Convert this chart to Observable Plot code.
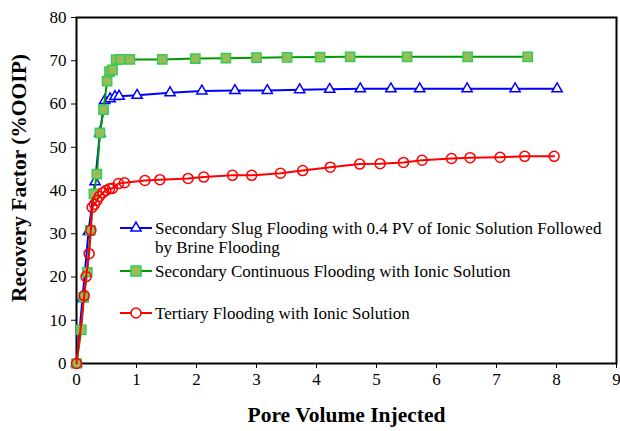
<!DOCTYPE html>
<html>
<head>
<meta charset="utf-8">
<script src="https://cdn.jsdelivr.net/npm/d3@7"></script>
<script src="https://cdn.jsdelivr.net/npm/@observablehq/plot@0.6"></script>
<style>
  html, body { margin: 0; padding: 0; background: #fff; }
  #chart { position: relative; width: 620px; height: 431px; }
  #chart svg text { font-family: "Liberation Serif", "Times New Roman", serif; }
  g[aria-label="x-axis label"] text { font-weight: bold; font-size: 21.5px; }
</style>
</head>
<body>
<div id="chart"></div>
<script>
// Secondary slug flooding (0.4 PV ionic solution, then brine)
const pvSlug = [0, 0.10, 0.20, 0.31, 0.39, 0.47, 0.56, 0.64, 0.71, 1.01, 1.56, 2.09, 2.64, 3.18, 3.72, 4.22, 4.73, 5.24, 5.72, 6.51, 7.31, 8.01];
const rfSlug = [0, 15, 30.5, 42, 53.3, 60.8, 61.2, 61.7, 61.8, 62.0, 62.6, 63.0, 63.1, 63.1, 63.3, 63.4, 63.5, 63.5, 63.5, 63.5, 63.5, 63.5];
// Secondary continuous flooding with ionic solution
const pvCont = [0, 0.08, 0.12, 0.18, 0.23, 0.29, 0.34, 0.39, 0.45, 0.51, 0.55, 0.60, 0.66, 0.73, 0.89, 1.43, 1.98, 2.49, 3.00, 3.51, 4.06, 4.56, 5.51, 6.52, 7.52];
const rfCont = [0, 7.8, 15.3, 21.1, 30.8, 39.2, 43.8, 53.3, 58.7, 65.3, 67.5, 67.9, 70.2, 70.3, 70.3, 70.3, 70.5, 70.6, 70.7, 70.8, 70.85, 70.9, 70.9, 70.9, 70.9];
// Tertiary flooding with ionic solution
const pvTert = [0, 0.13, 0.16, 0.21, 0.24, 0.26, 0.30, 0.34, 0.38, 0.44, 0.49, 0.55, 0.60, 0.70, 0.80, 1.14, 1.39, 1.86, 2.12, 2.60, 2.92, 3.40, 3.77, 4.23, 4.72, 5.06, 5.45, 5.76, 6.25, 6.56, 7.06, 7.47, 7.96];
const rfTert = [0, 15.7, 20.1, 25.4, 30.8, 36.1, 36.8, 37.7, 38.6, 39.5, 40.0, 40.4, 40.5, 41.6, 41.8, 42.3, 42.5, 42.8, 43.1, 43.5, 43.5, 44.0, 44.6, 45.4, 46.1, 46.2, 46.5, 47.0, 47.4, 47.6, 47.7, 47.9, 47.9];

const seriesNames = [
  "Secondary Slug Flooding with 0.4 PV of Ionic Solution Followed|by Brine Flooding",
  "Secondary Continuous Flooding with Ionic Solution",
  "Tertiary Flooding with Ionic Solution"
];
const xLabel = "Pore Volume Injected";
const yLabel = "Recovery Factor (%OOIP)";
const xTicks = [0, 1, 2, 3, 4, 5, 6, 7, 8, 9];
const yTicks = [0, 10, 20, 30, 40, 50, 60, 70, 80];

const toRows = (xs, ys) => xs.map((x, i) => ({x, y: ys[i]}));
const slug = toRows(pvSlug, rfSlug);
const cont = toRows(pvCont, rfCont);
const tert = toRows(pvTert, rfTert);

const blue = "#0000ff", green = "#009a00", red = "#ff0000";
const sqFill = "#9bbb59", sqStroke = "#33cc55";
const serif = "'Liberation Serif', 'Times New Roman', serif";

const plot = Plot.plot({
  width: 620,
  height: 431,
  marginLeft: 76,
  marginRight: 4,
  marginTop: 17,
  marginBottom: 68,
  style: {fontFamily: serif, fontSize: "17px", color: "#000", background: "#fff"},
  x: {domain: [0, 9]},
  y: {domain: [0, 80]},
  marks: [
    Plot.axisX({ticks: xTicks, tickSize: 5, tickPadding: 4, tickFormat: d => d, fontSize: 17,
      label: xLabel, labelAnchor: "center", labelArrow: "none", labelOffset: 58}),
    Plot.axisY({ticks: yTicks, tickSize: 5, tickPadding: 5, tickFormat: d => d, fontSize: 17, label: null}),
    Plot.frame({stroke: "#000", strokeWidth: 2}),
    Plot.line(slug, {x: "x", y: "y", stroke: blue, strokeWidth: 2}),
    Plot.dot(slug, {x: "x", y: "y", symbol: "triangle", r: 3.8, stroke: blue, fill: "white", strokeWidth: 1.5}),
    Plot.line(cont, {x: "x", y: "y", stroke: green, strokeWidth: 2}),
    Plot.dot(cont, {x: "x", y: "y", symbol: "square", r: 5.2, stroke: sqStroke, fill: sqFill, strokeWidth: 1.5}),
    Plot.line(tert, {x: "x", y: "y", stroke: red, strokeWidth: 2}),
    Plot.dot(tert, {x: "x", y: "y", symbol: "circle", r: 5, stroke: red, fill: "none", strokeWidth: 1.5})
  ]
});
document.getElementById("chart").appendChild(plot);

const svg = d3.select(plot);
// Y axis title
svg.append("text")
  .attr("transform", "translate(26,178) rotate(-90)")
  .attr("text-anchor", "middle")
  .attr("font-family", serif)
  .attr("font-weight", "bold")
  .attr("font-size", 21.5)
  .attr("fill", "#000")
  .text(yLabel);

// Legend inside the plot area
const lg = svg.append("g")
  .attr("font-family", serif)
  .attr("font-size", 17)
  .attr("text-anchor", "start");
const legendItems = [
  {name: seriesNames[0], color: blue, sym: "triangle", cy: 228},
  {name: seriesNames[1], color: green, sym: "square", cy: 271},
  {name: seriesNames[2], color: red, sym: "circle", cy: 313}
];
legendItems.forEach(it => {
  lg.append("line").attr("x1", 120).attr("x2", 152).attr("y1", it.cy).attr("y2", it.cy)
    .attr("stroke", it.color).attr("stroke-width", 2);
  if (it.sym === "triangle") {
    lg.append("path").attr("d", d3.symbol(d3.symbolTriangle, Math.PI * 3.8 * 3.8)()).attr("transform", `translate(136,${it.cy})`)
      .attr("fill", "white").attr("stroke", blue).attr("stroke-width", 1.5);
  } else if (it.sym === "square") {
    lg.append("rect").attr("x", 131).attr("y", it.cy - 5).attr("width", 10).attr("height", 10)
      .attr("fill", sqFill).attr("stroke", sqStroke).attr("stroke-width", 1.5);
  } else {
    lg.append("circle").attr("cx", 136).attr("cy", it.cy).attr("r", 5).attr("fill", "white").attr("stroke", red).attr("stroke-width", 1.5);
  }
  const lines = it.name.split("|");
  lines.forEach((t, i) => {
    lg.append("text").attr("x", 155).attr("y", it.cy + 5.5 + i * 19.5).attr("fill", "#000").attr("text-anchor", "start").text(t);
  });
});
</script>
</body>
</html>
